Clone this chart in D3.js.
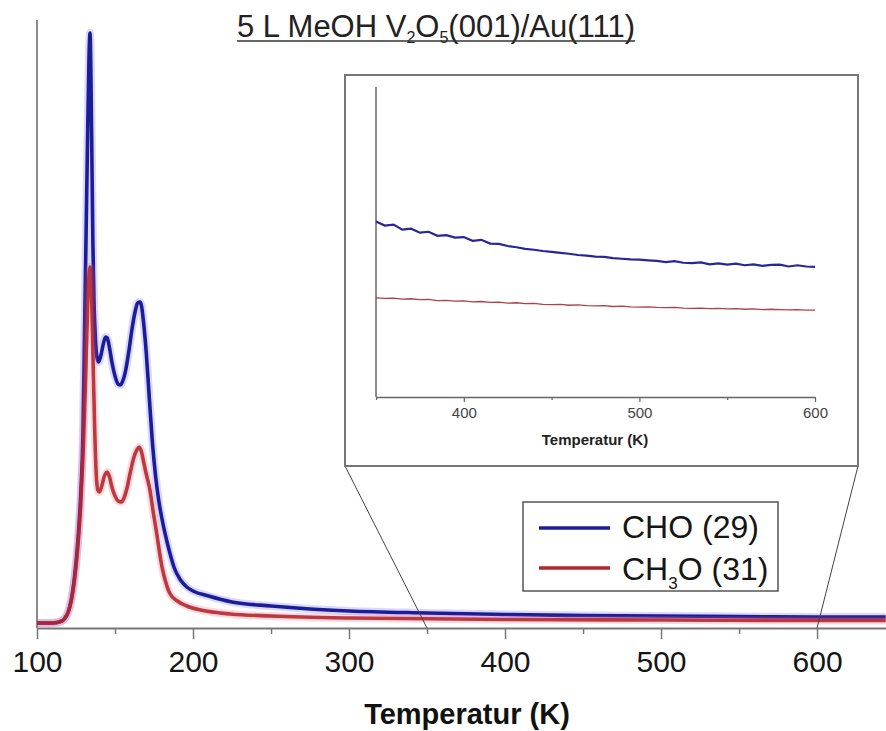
<!DOCTYPE html>
<html>
<head>
<meta charset="utf-8">
<script src="https://cdn.jsdelivr.net/npm/d3@7/dist/d3.min.js"></script>
<style>
  html, body { margin: 0; padding: 0; background: #fff; }
  svg { display: block; font-family: "Liberation Sans", Arial, sans-serif; }
</style>
</head>
<body>
<svg id="chart" width="886" height="731"></svg>
<script>
// ---------- DATA ----------
const titleParts = [["5 L MeOH V", 0], ["2", 1], ["O", 0], ["5", 1], ["(001)/Au(111)", 0]];
const xTicks = [100, 200, 300, 400, 500, 600];
const xMinorTicks = [150, 250, 350, 450, 550];
const xLabel = "Temperatur (K)";
const seriesNames = ["CHO (29)", "CH3O (31)"];

// CHO (m/z 29) main spectrum: temperature (K) and intensity (a.u.)
const choT = [100,110,116,118,120,122,124,126,128,129.5,130.5,131.5,132.5,133.3,134,134.6,135.2,135.8,136.5,137.5,138.5,139.5,141,142.5,144,145,146.5,148,150,152,153.5,155,157,159,161,163,164.5,166,167,168,170,172,174,176,178,180,182,185,188,192,196,200,210,225,250,275,300,350,400,450,500,550,600,644];
const choV = [0.82,0.82,1.15,1.64,2.63,4.61,8.22,13.65,21.88,32.57,49.01,65.46,81.91,93.42,97.86,90.13,76.97,63.82,53.95,47.37,44.41,43.75,44.9,46.71,47.86,47.70,46.05,43.75,41.45,40.13,39.97,40.63,42.6,45.72,49.34,52.14,53.45,53.62,52.96,50.99,45.39,37.83,30.43,25.0,21.05,18.09,15.63,12.5,9.87,7.89,6.74,6.09,5.26,4.28,3.62,3.13,2.8,2.47,2.22,2.06,1.97,1.89,1.81,1.81];

// CH3O (m/z 31) main spectrum
const ch3oT = [100,110,116,118,120,122,124,126,128,129.5,131,132,133,134,135,136,137,138,139,140,141.5,143,145,146.5,148,150,152,154,156,158,160,162,164,165.5,167,168.5,170,172.4,174.5,176.7,178.5,180,182.5,185,190,196,205,224,250,300,400,500,600,644];
const ch3oV = [0.82,0.82,1.15,1.64,2.63,4.61,7.89,12.83,20.23,28.45,39.97,49.01,56.41,59.38,54.77,43.26,32.57,25.16,22.7,22.37,23.36,24.84,25.66,24.84,23.19,21.71,20.89,20.72,21.55,23.36,25.82,27.96,29.28,29.77,28.95,27.14,25.33,22.7,19.08,15.63,12.5,10.2,7.57,5.76,4.44,3.62,2.96,2.3,1.97,1.64,1.4,1.32,1.23,1.23];

// Inset (350-600 K), temperatures every 5 K
const insetT = [350,355,360,365,370,375,380,385,390,395,400,405,410,415,420,425,430,435,440,445,450,455,460,465,470,475,480,485,490,495,500,505,510,515,520,525,530,535,540,545,550,555,560,565,570,575,580,585,590,595,600];
const insetCHO = [56.6,55.3,55.6,54.0,54.3,53.0,53.3,52.0,52.2,51.4,51.6,50.4,50.7,49.5,49.4,48.7,48.3,47.8,47.5,47.1,46.8,46.5,46.2,45.8,45.6,45.3,45.2,44.8,44.6,44.4,44.3,44.1,43.9,43.5,43.8,43.3,43.2,43.4,42.8,43.1,42.7,43.0,42.5,42.8,42.3,42.6,42.7,42.1,42.5,42.1,42.0];
const insetCH3O = [32.0,31.8,31.9,31.6,31.7,31.4,31.5,31.1,31.2,30.9,31.0,30.7,30.8,30.5,30.6,30.3,30.4,30.1,30.2,29.9,29.8,29.9,29.6,29.7,29.5,29.4,29.5,29.2,29.3,29.1,29.0,29.1,28.9,28.8,28.9,28.7,28.6,28.7,28.5,28.6,28.4,28.5,28.3,28.4,28.2,28.3,28.2,28.1,28.2,28.0,28.0];
const insetTicks = [400, 500, 600];
const insetMinorTicks = [350, 450, 550];

// ---------- DRAW ----------
const svg = d3.select("#chart");
const BLUE = "#1c1c98", RED = "#b3282f";

const x = d3.scaleLinear().domain([100, 644.2]).range([37, 886]);
const y = d3.scaleLinear().domain([0, 100]).range([628, 20]);

// main y-axis line
svg.append("line").attr("x1", 37).attr("x2", 37).attr("y1", y(100)).attr("y2", y(0))
  .attr("stroke", "#8a8a8a").attr("stroke-width", 2);

// main x-axis
const gx = svg.append("g").attr("transform", `translate(0,${y(0)})`);
gx.call(d3.axisBottom(x).tickValues(xTicks).tickSize(11).tickSizeOuter(0).tickFormat(d3.format("d")));
gx.select(".domain").attr("stroke", "#777").attr("stroke-width", 2);
gx.selectAll(".tick line").attr("stroke", "#777").attr("stroke-width", 1.5);
gx.selectAll(".tick text").attr("dy", null).attr("y", 44)
  .attr("font-size", 30).attr("fill", "#151515").attr("font-family", "Liberation Sans, Arial, sans-serif");
const gxm = svg.append("g").attr("transform", `translate(0,${y(0)})`);
gxm.call(d3.axisBottom(x).tickValues(xMinorTicks).tickSize(6).tickSizeOuter(0).tickFormat(""));
gxm.select(".domain").remove();
gxm.selectAll(".tick line").attr("stroke", "#777").attr("stroke-width", 1.5);

svg.append("text").attr("x", 467).attr("y", 724).attr("text-anchor", "middle")
  .attr("font-size", 29).attr("font-weight", "bold").attr("fill", "#111").text(xLabel);

// main curves
const line = d3.line().x(d => x(d[0])).y(d => y(d[1])).curve(d3.curveMonotoneX);
const choData = choT.map((t, i) => [t, choV[i]]);
const ch3oData = ch3oT.map((t, i) => [t, ch3oV[i]]);

svg.append("path").datum(choData).attr("d", line).attr("fill", "none")
  .attr("stroke", "#5050ff").attr("stroke-opacity", 0.22).attr("stroke-width", 8);
svg.append("path").datum(choData).attr("d", line).attr("fill", "none")
  .attr("stroke", BLUE).attr("stroke-width", 3.6).attr("stroke-linejoin", "round");
svg.append("path").datum(ch3oData).attr("d", line).attr("fill", "none")
  .attr("stroke", "#ff5070").attr("stroke-opacity", 0.22).attr("stroke-width", 8);
svg.append("path").datum(ch3oData).attr("d", line).attr("fill", "none")
  .attr("stroke", RED).attr("stroke-opacity", 0.9).attr("stroke-width", 3.6).attr("stroke-linejoin", "round");

// title
const title = svg.append("text").attr("x", 237).attr("y", 37).attr("font-size", 31).attr("fill", "#222");
titleParts.forEach(([s, sub], i) => {
  const prevSub = i > 0 ? titleParts[i - 1][1] : 0;
  const ts = title.append("tspan").text(s);
  if (sub) ts.attr("font-size", 16).attr("dy", 6);
  else if (prevSub) ts.attr("dy", -6);
});
const tw = title.node().getComputedTextLength();
svg.append("line").attr("x1", 237).attr("x2", 237 + tw).attr("y1", 41).attr("y2", 41)
  .attr("stroke", "#333").attr("stroke-width", 1.5);

// inset
const xi = d3.scaleLinear().domain([350, 600]).range([376, 815]);
const yi = d3.scaleLinear().domain([0, 100]).range([397, 87]);
const box = {x0: 345, y0: 75, x1: 858, y1: 466};

// connector lines
svg.append("line").attr("x1", box.x0).attr("y1", box.y1).attr("x2", x(350)).attr("y2", y(0))
  .attr("stroke", "#444").attr("stroke-width", 1);
svg.append("line").attr("x1", box.x1).attr("y1", box.y1).attr("x2", x(600)).attr("y2", y(0))
  .attr("stroke", "#444").attr("stroke-width", 1);

svg.append("rect").attr("x", box.x0).attr("y", box.y0).attr("width", box.x1 - box.x0).attr("height", box.y1 - box.y0)
  .attr("fill", "#fff").attr("stroke", "#777").attr("stroke-width", 2);

svg.append("line").attr("x1", xi(350)).attr("x2", xi(350)).attr("y1", yi(100)).attr("y2", yi(0))
  .attr("stroke", "#666").attr("stroke-width", 1.5);
const gxi = svg.append("g").attr("transform", `translate(0,${yi(0)})`);
gxi.call(d3.axisBottom(xi).tickValues(insetTicks).tickSize(5).tickSizeOuter(0).tickFormat(d3.format("d")));
gxi.select(".domain").attr("stroke", "#666").attr("stroke-width", 1.5);
gxi.selectAll(".tick line").attr("stroke", "#666").attr("stroke-width", 1.2);
gxi.selectAll(".tick text").attr("dy", null).attr("y", 21).attr("font-size", 15)
  .attr("fill", "#444").attr("font-family", "Liberation Sans, Arial, sans-serif");
const gxim = svg.append("g").attr("transform", `translate(0,${yi(0)})`);
gxim.call(d3.axisBottom(xi).tickValues(insetMinorTicks).tickSize(3).tickSizeOuter(0).tickFormat(""));
gxim.select(".domain").remove();
gxim.selectAll(".tick line").attr("stroke", "#666").attr("stroke-width", 1.2);

svg.append("text").attr("x", 595).attr("y", 445).attr("text-anchor", "middle")
  .attr("font-size", 15).attr("font-weight", "bold").attr("fill", "#222").text(xLabel);

const lineI = d3.line().x(d => xi(d[0])).y(d => yi(d[1]));
svg.append("path").datum(insetT.map((t, i) => [t, insetCHO[i]])).attr("d", lineI)
  .attr("fill", "none").attr("stroke", "#26269a").attr("stroke-width", 2.2);
svg.append("path").datum(insetT.map((t, i) => [t, insetCH3O[i]])).attr("d", lineI)
  .attr("fill", "none").attr("stroke", "#b04048").attr("stroke-width", 1.3);

// legend
const lg = svg.append("g");
lg.append("rect").attr("x", 523).attr("y", 502).attr("width", 255).attr("height", 89)
  .attr("fill", "#fff").attr("stroke", "#555").attr("stroke-width", 1.5);
[[BLUE, 528], [RED, 568]].forEach(([c, ly]) => {
  lg.append("line").attr("x1", 539).attr("x2", 610).attr("y1", ly).attr("y2", ly)
    .attr("stroke", c).attr("stroke-width", 3.6);
});
lg.append("text").attr("x", 622).attr("y", 538).attr("font-size", 32).attr("fill", "#151515").text(seriesNames[0]);
const t2 = lg.append("text").attr("x", 622).attr("y", 580).attr("font-size", 32).attr("fill", "#151515");
t2.append("tspan").text("CH");
t2.append("tspan").attr("font-size", 17).attr("dy", 9).text("3");
t2.append("tspan").attr("dy", -9).text("O (31)");
</script>
</body>
</html>
